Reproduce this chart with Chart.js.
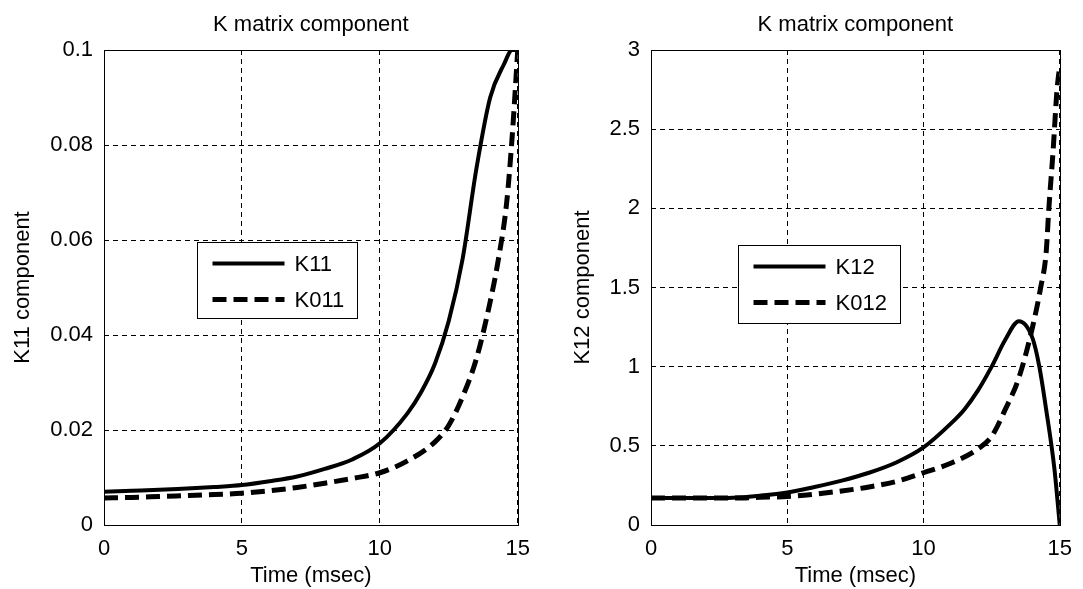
<!DOCTYPE html>
<html>
<head>
<meta charset="utf-8">
<title>K matrix component</title>
<script src="https://cdn.jsdelivr.net/npm/chart.js@4.4.0/dist/chart.umd.min.js"></script>
<style>
  body { margin: 0; background: #fff; }
  #left { position: absolute; left: 0; top: 0; }
  #right { position: absolute; left: 541px; top: 0; }
</style>
</head>
<body>
<canvas id="left" width="541" height="589"></canvas>
<canvas id="right" width="542" height="589"></canvas>
<script>
// left panel: K11 and K011
const timeK11 = [0, 1, 2, 3, 4, 5, 6, 7, 8, 9, 10, 11, 11.5, 12, 12.5, 13, 13.5, 14, 14.5, 14.8, 15];
const valK11 = [0.007, 0.0072, 0.0074, 0.0077, 0.008, 0.0084, 0.0092, 0.0102, 0.0118, 0.0138, 0.0172, 0.0235, 0.028, 0.034, 0.043, 0.056, 0.075, 0.09, 0.097, 0.1, 0.1];
const timeK011 = [0, 1, 2, 3, 4, 5, 6, 7, 8, 9, 10, 11, 12, 12.5, 13, 13.5, 14, 14.3, 14.6, 14.8, 15];
const valK011 = [0.0057, 0.0058, 0.006, 0.0062, 0.0064, 0.0067, 0.0072, 0.0079, 0.0088, 0.0098, 0.011, 0.0135, 0.0175, 0.021, 0.027, 0.035, 0.047, 0.056, 0.068, 0.082, 0.1];

// right panel: K12 and K012
const timeK12 = [0, 1, 2, 3, 4, 5, 6, 7, 8, 9, 10, 11, 11.5, 12, 12.5, 13, 13.5, 14, 14.25, 14.5, 14.8, 15];
const valK12 = [0.17, 0.17, 0.17, 0.172, 0.185, 0.205, 0.24, 0.28, 0.33, 0.395, 0.49, 0.64, 0.73, 0.85, 1.0, 1.17, 1.287, 1.18, 1.0, 0.73, 0.36, 0];
const timeK012 = [0, 1, 2, 3, 4, 5, 6, 7, 8, 9, 10, 11, 12, 12.5, 13, 13.5, 14, 14.3, 14.5, 14.6, 14.75, 14.9, 15];
const valK012 = [0.17, 0.17, 0.17, 0.17, 0.175, 0.18, 0.195, 0.215, 0.24, 0.275, 0.33, 0.39, 0.48, 0.56, 0.73, 0.93, 1.25, 1.5, 1.72, 2.0, 2.35, 2.75, 2.9];

const xTicks = [0, 5, 10, 15];
const xTickLabels = ['0', '5', '10', '15'];
const yTicksLeft = [0, 0.02, 0.04, 0.06, 0.08, 0.1];
const yTickLabelsLeft = ['0', '0.02', '0.04', '0.06', '0.08', '0.1'];
const yTicksRight = [0, 0.5, 1, 1.5, 2, 2.5, 3];
const yTickLabelsRight = ['0', '0.5', '1', '1.5', '2', '2.5', '3'];

const FONT = 'Liberation Sans, Arial, sans-serif';
Chart.defaults.font.family = FONT;
Chart.defaults.font.size = 22;
Chart.defaults.color = '#000';

const toPoints = (xs, ys) => xs.map((x, i) => ({ x: x, y: ys[i] }));

// black box round the plot area
const frame = {
  id: 'frame',
  afterDatasetsDraw(chart) {
    const a = chart.chartArea;
    const ctx = chart.ctx;
    ctx.save();
    ctx.strokeStyle = '#000';
    ctx.lineWidth = 1;
    ctx.strokeRect(Math.round(a.left) + 0.5, Math.round(a.top) + 0.5,
      Math.round(a.right - a.left), Math.round(a.bottom - a.top));
    ctx.restore();
  }
};

// MATLAB style boxed legend inside the axes
const boxLegend = {
  id: 'boxLegend',
  afterDraw(chart, args, opts) {
    const a = chart.chartArea;
    const ctx = chart.ctx;
    const x0 = Math.round(a.left + opts.fx * (a.right - a.left)) + 0.5;
    const y0 = Math.round(a.top + opts.fy * (a.bottom - a.top)) + 0.5;
    ctx.save();
    ctx.fillStyle = '#fff';
    ctx.fillRect(x0, y0, opts.w, opts.h);
    ctx.strokeStyle = '#000';
    ctx.lineWidth = 1;
    ctx.strokeRect(x0, y0, opts.w, opts.h);
    chart.data.datasets.forEach((ds, i) => {
      const y = y0 + 21 + i * 36;
      ctx.beginPath();
      ctx.setLineDash(ds.borderDash || []);
      ctx.lineWidth = ds.borderWidth;
      ctx.strokeStyle = ds.borderColor;
      ctx.moveTo(x0 + 15, y);
      ctx.lineTo(x0 + 87, y);
      ctx.stroke();
      ctx.setLineDash([]);
      ctx.fillStyle = '#000';
      ctx.font = '22px ' + FONT;
      ctx.textBaseline = 'middle';
      ctx.fillText(ds.label, x0 + 97, y + 1);
    });
    ctx.restore();
  }
};

const createChart = (id, series, yMax, yTicks, yLabels, yTitle, yWidth, yTitlePad, padRight, legendPos) => {
  new Chart(document.getElementById(id), {
    type: 'scatter',
    data: {
      datasets: series.map(s => ({
        label: s.label,
        data: toPoints(s.xs, s.ys),
        showLine: true,
        borderColor: '#000',
        borderWidth: s.dash ? 5 : 4,
        borderDash: s.dash ? [14, 7] : [],
        pointRadius: 0,
        cubicInterpolationMode: 'monotone'
      }))
    },
    options: {
      responsive: false,
      animation: false,
      devicePixelRatio: 1,
      layout: { padding: { top: 0, right: padRight, bottom: 0, left: 0 } },
      scales: {
        x: {
          type: 'linear',
          min: 0,
          max: 15,
          afterFit: s => { s.height = 64; },
          afterBuildTicks: s => { s.ticks = xTicks.map(v => ({ value: v })); },
          ticks: {
            padding: 11,
            maxRotation: 0,
            callback: (v) => xTickLabels[xTicks.indexOf(v)]
          },
          grid: { color: '#000', lineWidth: 1, drawTicks: false },
          border: { display: false, dash: [5, 4] },
          title: { display: true, text: 'Time (msec)', padding: { top: 0, bottom: 0 } }
        },
        y: {
          type: 'linear',
          min: 0,
          max: yMax,
          afterFit: s => { s.width = yWidth; },
          afterBuildTicks: s => { s.ticks = yTicks.map(v => ({ value: v })); },
          ticks: {
            padding: 11,
            callback: (v) => yLabels[yTicks.indexOf(v)]
          },
          grid: { color: '#000', lineWidth: 1, drawTicks: false },
          border: { display: false, dash: [5, 4] },
          title: { display: true, text: yTitle, padding: { top: yTitlePad, bottom: 0 } }
        }
      },
      plugins: {
        legend: { display: false },
        tooltip: { enabled: false },
        title: {
          display: true,
          text: 'K matrix component',
          fullSize: false,
          font: { size: 22, weight: 'normal' },
          padding: { top: 12, bottom: 11.6 }
        },
        boxLegend: legendPos
      }
    },
    plugins: [frame, boxLegend]
  });
};

window.onload = () => {
  createChart('left', [
    { label: 'K11', xs: timeK11, ys: valK11, dash: false },
    { label: 'K011', xs: timeK011, ys: valK011, dash: true }
  ], 0.1, yTicksLeft, yTickLabelsLeft, 'K11 component', 104, 10, 20,
  { fx: 0.225, fy: 0.404, w: 160, h: 76 });

  createChart('right', [
    { label: 'K12', xs: timeK12, ys: valK12, dash: false },
    { label: 'K012', xs: timeK012, ys: valK012, dash: true }
  ], 3, yTicksRight, yTickLabelsRight, 'K12 component', 110, 29, 14,
  { fx: 0.213, fy: 0.41, w: 162, h: 78 });
};
</script>
</body>
</html>
